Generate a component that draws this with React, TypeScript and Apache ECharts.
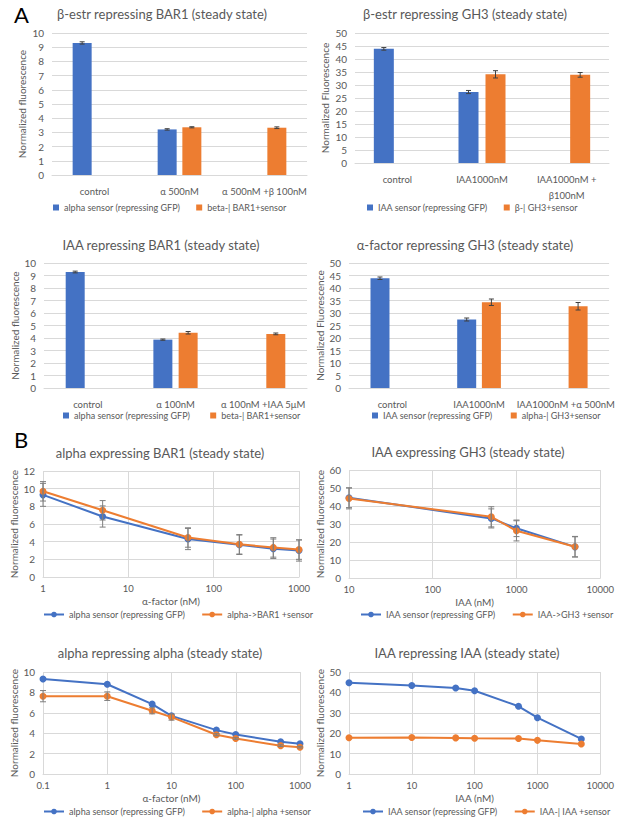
import React, { useEffect, useRef } from "react";
import * as echarts from "echarts";

const FONT = "Lato, 'Noto Sans', sans-serif";
const BLUE = "#4472C4";
const ORANGE = "#ED7D31";
const TXT = "#595959";
const GRIDC = "#D9D9D9";

// ---------- Panel A data ----------
const a1Title = "β-estr repressing BAR1 (steady state)";
const a1Categories = ["control", "α 500nM", "α 500nM +β 100nM"];
const a1Blue = [9.3, 3.21, null];
const a1BlueErr = [0.08, 0.05, null];
const a1Orange = [null, 3.36, 3.33];
const a1OrangeErr = [null, 0.04, 0.06];
const a1Legend = ["alpha sensor (repressing GFP)", "beta-| BAR1+sensor"];

const a2Title = "β-estr repressing GH3 (steady state)";
const a2Categories = ["control", "IAA1000nM", "IAA1000nM +\nβ100nM"];
const a2Blue = [43.9, 27.3, null];
const a2BlueErr = [0.5, 0.6, null];
const a2Orange = [null, 34.1, 33.9];
const a2OrangeErr = [null, 1.4, 0.9];
const a2Legend = ["IAA sensor (repressing GFP)", "β-| GH3+sensor"];

const a3Title = "IAA repressing BAR1 (steady state)";
const a3Categories = ["control", "α 100nM", "α 100nM +IAA 5μM"];
const a3Blue = [9.28, 3.87, null];
const a3BlueErr = [0.07, 0.05, null];
const a3Orange = [null, 4.42, 4.33];
const a3OrangeErr = [null, 0.1, 0.07];
const a3Legend = ["alpha sensor (repressing GFP)", "beta-| BAR1+sensor"];

const a4Title = "α-factor repressing GH3 (steady state)";
const a4Categories = ["control", "IAA1000nM", "IAA1000nM +α 500nM"];
const a4Blue = [43.9, 27.4, null];
const a4BlueErr = [0.5, 0.6, null];
const a4Orange = [null, 34.3, 32.7];
const a4OrangeErr = [null, 1.3, 1.5];
const a4Legend = ["IAA sensor (repressing GFP)", "alpha-| GH3+sensor"];

// ---------- Panel B data ----------
const b1Title = "alpha expressing BAR1 (steady state)";
const b1X = [1, 5, 50, 200, 500, 1000];
const b1Blue = [9.3, 6.85, 4.3, 3.65, 3.2, 3.0];
const b1BlueErr = [1.3, 1.2, 1.2, 1.1, 1.1, 1.2];
const b1Orange = [9.7, 7.55, 4.47, 3.7, 3.35, 3.1];
const b1OrangeErr = [1.1, 1.1, 1.1, 1.1, 1.1, 1.1];
const b1Legend = ["alpha sensor (repressing GFP)", "alpha->BAR1 +sensor"];

const b2Title = "IAA expressing GH3 (steady state)";
const b2X = [10, 500, 1000, 5000];
const b2Blue = [44.6, 33.1, 27.6, 17.3];
const b2BlueErr = [5.5, 5.3, 4.6, 5.6];
const b2Orange = [44.2, 34.0, 26.2, 17.4];
const b2OrangeErr = [5.8, 5.6, 5.6, 5.7];
const b2Legend = ["IAA sensor (repressing GFP)", "IAA->GH3 +sensor"];

const b3Title = "alpha repressing alpha (steady state)";
const b3X = [0.1, 1, 5, 10, 50, 100, 500, 1000];
const b3Blue = [9.32, 8.8, 6.85, 5.7, 4.3, 3.87, 3.17, 2.97];
const b3BlueErr = [0, 0, 0, 0, 0, 0, 0, 0];
const b3Orange = [7.63, 7.63, 6.2, 5.58, 3.85, 3.48, 2.78, 2.63];
const b3OrangeErr = [0.55, 0.42, 0.3, 0.3, 0.1, 0.08, 0.08, 0.08];
const b3Legend = ["alpha sensor (repressing GFP)", "alpha-| alpha +sensor"];

const b4Title = "IAA repressing IAA (steady state)";
const b4X = [1, 10, 50, 100, 500, 1000, 5000];
const b4Blue = [44.7, 43.4, 42.2, 40.8, 33.2, 27.6, 17.2];
const b4BlueErr = [0, 0, 0, 0, 0, 0, 0];
const b4Orange = [17.8, 17.9, 17.7, 17.5, 17.4, 16.5, 14.7];
const b4OrangeErr = [0, 0, 0, 0, 0, 0, 0];
const b4Legend = ["IAA sensor (repressing GFP)", "IAA-| IAA +sensor"];

function titleText(text: string, x: number, y: number) {
  return {
    type: "text",
    x,
    y,
    silent: true,
    style: {
      text,
      fill: TXT,
      font: `13px ${FONT}`,
      textAlign: "center",
      textVerticalAlign: "middle",
    },
  };
}

function letterText(text: string, x: number, y: number) {
  return {
    type: "text",
    x,
    y,
    silent: true,
    style: { text, fill: "#000", font: `22px ${FONT}`, textAlign: "left", textVerticalAlign: "top" },
  };
}

function errSeries(xs: any[], vals: any[], errs: any[], offset: number, color: string, cap: number) {
  const data: any[] = [];
  vals.forEach((v, i) => {
    if (v == null || errs[i] == null || errs[i] === 0) return;
    data.push([xs[i], v - errs[i], v + errs[i]]);
  });
  return {
    type: "custom",
    name: "err",
    silent: true,
    z: 5,
    encode: { x: 0, y: [1, 2] },
    data,
    renderItem: (_p: any, api: any) => {
      const lo = api.coord([api.value(0), api.value(1)]);
      const hi = api.coord([api.value(0), api.value(2)]);
      const x = lo[0] + offset;
      const st = { stroke: color, lineWidth: 1 };
      return {
        type: "group",
        children: [
          { type: "line", shape: { x1: x, y1: lo[1], x2: x, y2: hi[1] }, style: st },
          { type: "line", shape: { x1: x - cap, y1: lo[1], x2: x + cap, y2: lo[1] }, style: st },
          { type: "line", shape: { x1: x - cap, y1: hi[1], x2: x + cap, y2: hi[1] }, style: st },
        ],
      };
    },
  };
}

function barOption(p: any) {
  const gap = p.gap;
  const off = (p.barWidth * (1 + gap)) / 2;
  const idx = p.categories.map((_: any, i: number) => i);
  return {
    animation: false,
    textStyle: { fontFamily: FONT },
    graphic: [titleText(p.title, p.tx, p.ty), ...(p.letter ? [letterText(p.letter, p.lx, p.ly)] : [])],
    grid: { left: p.grid[0], top: p.grid[1], width: p.grid[2], height: p.grid[3], containLabel: false },
    legend: {
      left: p.legend[0],
      top: p.legend[1],
      width: 300,
      padding: 0,
      itemWidth: 6,
      itemHeight: 6,
      itemGap: p.legendGap,
      icon: "rect",
      textStyle: { color: TXT, fontSize: 9, fontFamily: FONT },
      data: p.legendNames,
      selectedMode: false,
    },
    xAxis: {
      type: "category",
      data: p.categories,
      axisTick: { show: false },
      axisLine: { lineStyle: { color: GRIDC } },
      axisLabel: { color: TXT, fontSize: 9.5, margin: 8, interval: 0, lineHeight: 16, fontFamily: FONT },
    },
    yAxis: {
      type: "value",
      min: 0,
      max: p.yMax,
      interval: p.yInterval,
      name: p.yName,
      nameLocation: "middle",
      nameGap: p.nameGap,
      nameTextStyle: { color: TXT, fontSize: 10, fontFamily: FONT },
      axisLine: { show: false },
      axisTick: { show: false },
      splitLine: { lineStyle: { color: GRIDC } },
      axisLabel: { color: TXT, fontSize: 10, margin: 8, fontFamily: FONT },
    },
    series: [
      {
        type: "bar",
        name: p.legendNames[0],
        data: p.blue,
        barWidth: p.barWidth,
        barGap: `${gap * 100}%`,
        itemStyle: { color: BLUE },
      },
      {
        type: "bar",
        name: p.legendNames[1],
        data: p.orange,
        barWidth: p.barWidth,
        barGap: `${gap * 100}%`,
        itemStyle: { color: ORANGE },
      },
      errSeries(idx, p.blue, p.blueErr, -off, "#404040", 2.5),
      errSeries(idx, p.orange, p.orangeErr, off, "#404040", 2.5),
    ],
  };
}

function lineOption(p: any) {
  return {
    animation: false,
    textStyle: { fontFamily: FONT },
    graphic: [titleText(p.title, p.tx, p.ty), ...(p.letter ? [letterText(p.letter, p.lx, p.ly)] : [])],
    grid: { left: p.grid[0], top: p.grid[1], width: p.grid[2], height: p.grid[3], containLabel: false },
    legend: {
      left: p.legend[0],
      top: p.legend[1],
      width: 300,
      padding: 0,
      itemWidth: 20,
      itemHeight: 7,
      itemGap: 16,
      textStyle: { color: TXT, fontSize: 9, fontFamily: FONT },
      data: p.legendNames,
      selectedMode: false,
    },
    xAxis: {
      type: "log",
      logBase: 10,
      min: p.xMin,
      max: p.xMax,
      name: p.xName,
      nameLocation: "middle",
      nameGap: 19,
      nameTextStyle: { color: TXT, fontSize: 10, fontFamily: FONT },
      axisTick: { show: false },
      axisLine: { lineStyle: { color: GRIDC } },
      splitLine: { show: true, lineStyle: { color: GRIDC } },
      axisLabel: {
        color: TXT,
        fontSize: 9.5,
        margin: 6,
        fontFamily: FONT,
        formatter: (v: number) => String(Number(v.toPrecision(6))),
      },
    },
    yAxis: {
      type: "value",
      min: 0,
      max: p.yMax,
      interval: p.yInterval,
      name: "Normalized fluorescence",
      nameLocation: "middle",
      nameGap: p.nameGap,
      nameTextStyle: { color: TXT, fontSize: 10, fontFamily: FONT },
      axisLine: { show: false },
      axisTick: { show: false },
      splitLine: { lineStyle: { color: GRIDC } },
      axisLabel: { color: TXT, fontSize: 10, margin: 8, fontFamily: FONT },
    },
    series: [
      errSeries(p.x, p.blue, p.blueErr, 0, "#7F7F7F", 3),
      errSeries(p.x, p.orange, p.orangeErr, 0, "#7F7F7F", 3),
      {
        type: "line",
        name: p.legendNames[0],
        data: p.x.map((x: number, i: number) => [x, p.blue[i]]),
        symbol: "circle",
        symbolSize: 7,
        lineStyle: { color: BLUE, width: 2 },
        itemStyle: { color: BLUE },
        z: 3,
      },
      {
        type: "line",
        name: p.legendNames[1],
        data: p.x.map((x: number, i: number) => [x, p.orange[i]]),
        symbol: "circle",
        symbolSize: 7,
        lineStyle: { color: ORANGE, width: 2 },
        itemStyle: { color: ORANGE },
        z: 4,
      },
    ],
  };
}

const options: any[] = [
  barOption({
    title: a1Title, tx: 162, ty: 14, letter: "A", lx: 14, ly: 3,
    grid: [52, 33, 255, 142], legend: [53, 203], legendGap: 16,
    categories: a1Categories, blue: a1Blue, blueErr: a1BlueErr, orange: a1Orange, orangeErr: a1OrangeErr,
    legendNames: a1Legend, yMax: 10, yInterval: 1, yName: "Normalized fluorescence", nameGap: 25,
    barWidth: 19, gap: 0.3,
  }),
  barOption({
    title: a2Title, tx: 465, ty: 14,
    grid: [355, 33, 254, 130], legend: [367, 203], legendGap: 16,
    categories: a2Categories, blue: a2Blue, blueErr: a2BlueErr, orange: a2Orange, orangeErr: a2OrangeErr,
    legendNames: a2Legend, yMax: 50, yInterval: 5, yName: "Normalized Fluorescence", nameGap: 25,
    barWidth: 20, gap: 0.35,
  }),
  barOption({
    title: a3Title, tx: 161, ty: 245,
    grid: [44, 263, 263, 125], legend: [63, 411], legendGap: 20,
    categories: a3Categories, blue: a3Blue, blueErr: a3BlueErr, orange: a3Orange, orangeErr: a3OrangeErr,
    legendNames: a3Legend, yMax: 10, yInterval: 1, yName: "Normalized fluorescence", nameGap: 19,
    barWidth: 19, gap: 0.33,
  }),
  barOption({
    title: a4Title, tx: 465, ty: 245,
    grid: [349, 263, 265, 125], legend: [372, 411], legendGap: 18,
    categories: a4Categories, blue: a4Blue, blueErr: a4BlueErr, orange: a4Orange, orangeErr: a4OrangeErr,
    legendNames: a4Legend, yMax: 50, yInterval: 5, yName: "Normalized Fluorescence", nameGap: 18,
    barWidth: 19, gap: 0.3,
  }),
  lineOption({
    title: b1Title, tx: 160, ty: 453, letter: "B", lx: 14, ly: 428,
    grid: [43, 471, 256, 106], legend: [43, 610],
    x: b1X, blue: b1Blue, blueErr: b1BlueErr, orange: b1Orange, orangeErr: b1OrangeErr,
    legendNames: b1Legend, xMin: 1, xMax: 1000, xName: "α-factor (nM)", yMax: 12, yInterval: 2, nameGap: 20,
  }),
  lineOption({
    title: b2Title, tx: 468, ty: 452,
    grid: [349, 470, 254, 108], legend: [360, 610],
    x: b2X, blue: b2Blue, blueErr: b2BlueErr, orange: b2Orange, orangeErr: b2OrangeErr,
    legendNames: b2Legend, xMin: 10, xMax: 10000, xName: "IAA (nM)", yMax: 60, yInterval: 10, nameGap: 19,
  }),
  lineOption({
    title: b3Title, tx: 160, ty: 653,
    grid: [43, 672, 257, 102], legend: [43, 807],
    x: b3X, blue: b3Blue, blueErr: b3BlueErr, orange: b3Orange, orangeErr: b3OrangeErr,
    legendNames: b3Legend, xMin: 0.1, xMax: 1000, xName: "α-factor (nM)", yMax: 10, yInterval: 2, nameGap: 20,
  }),
  lineOption({
    title: b4Title, tx: 467, ty: 653,
    grid: [349, 672, 254, 102], legend: [362, 807],
    x: b4X, blue: b4Blue, blueErr: b4BlueErr, orange: b4Orange, orangeErr: b4OrangeErr,
    legendNames: b4Legend, xMin: 1, xMax: 10000, xName: "IAA (nM)", yMax: 50, yInterval: 10, nameGap: 19,
  }),
];

function Chart({ option }: { option: any }) {
  const ref = useRef<HTMLDivElement>(null);
  useEffect(() => {
    if (!ref.current) return;
    const c = echarts.init(ref.current, null, { renderer: "svg" });
    c.setOption(option);
    return () => c.dispose();
  }, [option]);
  return (
    <div
      ref={ref}
      style={{ position: "absolute", left: 0, top: 0, width: 617, height: 825, pointerEvents: "none" }}
    />
  );
}

export default function App() {
  return (
    <div style={{ position: "fixed", left: 0, top: 0, width: 617, height: 825, background: "#fff", overflow: "hidden" }}>
      {options.map((o, i) => (
        <Chart key={i} option={o} />
      ))}
    </div>
  );
}
